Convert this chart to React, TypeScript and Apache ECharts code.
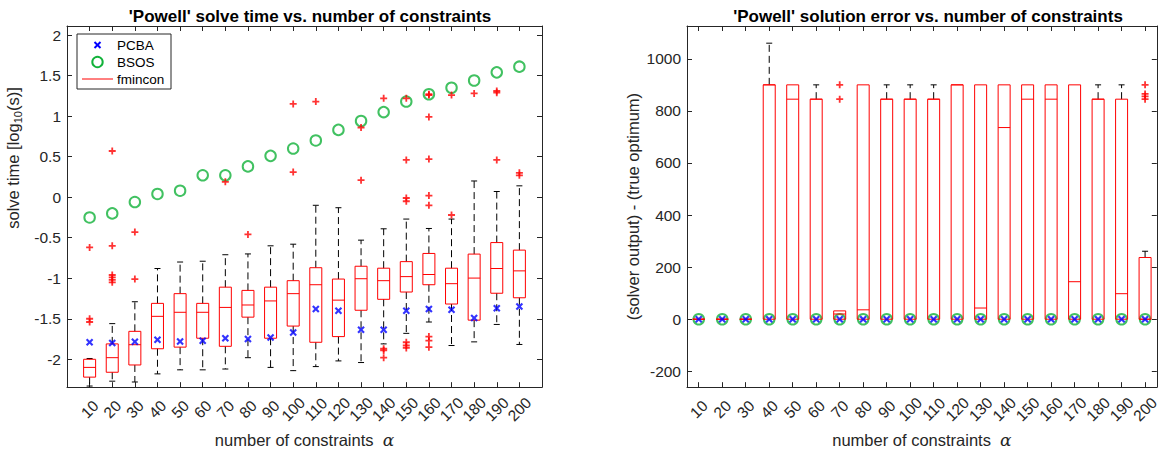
import React, { useEffect, useRef } from "react";
import * as echarts from "echarts";

// ---------- data ----------
const categories = [10, 20, 30, 40, 50, 60, 70, 80, 90, 100, 110, 120, 130, 140, 150, 160, 170, 180, 190, 200];

// left: solve time [log10(s)] — fmincon boxplot statistics
const timeLower = [-2.33, -2.27, -2.28, -2.18, -2.13, -2.13, -2.12, -1.98, -2.1, -2.14, -2.09, -2.02, -2.04, -1.81, -1.68, -1.54, -1.83, -1.785, -1.57, -1.817];
const timeQ1 = [-2.22, -2.16, -2.07, -1.87, -1.85, -1.74, -1.84, -1.48, -1.74, -1.59, -1.79, -1.72, -1.395, -1.26, -1.17, -1.08, -1.318, -1.517, -1.185, -1.241];
const timeMedian = [-2.1, -1.98, -1.82, -1.47, -1.42, -1.42, -1.36, -1.33, -1.28, -1.19, -1.08, -1.27, -1.006, -1.03, -0.98, -0.954, -1.067, -0.998, -0.88, -0.909];
const timeQ3 = [-2.0, -1.81, -1.655, -1.31, -1.19, -1.31, -1.11, -1.15, -1.11, -1.03, -0.87, -1.01, -0.852, -0.876, -0.795, -0.694, -0.876, -0.702, -0.56, -0.653];
const timeUpper = [-1.99, -1.56, -1.29, -0.88, -0.8, -0.79, -0.71, -0.7, -0.6, -0.58, -0.1, -0.13, -0.53, -0.39, -0.27, -0.386, -0.27, 0.2, 0.07, 0.14];
const timeOutliers: number[][] = [
  [-1.5, -1.54, -0.62],
  [0.57, -0.6, -0.96, -0.99, -1.02, -1.05],
  [-0.43, -1.01],
  [],
  [],
  [],
  [0.19],
  [-0.46],
  [],
  [1.15, 0.31],
  [1.18],
  [],
  [0.86, 0.21],
  [1.22, -1.87, -1.89, -1.98],
  [1.22, 0.46, -0.01, -0.05, -1.79, -1.83, -1.86],
  [1.27, 1.26, 0.99, 0.47, 0.02, -0.1, -1.72, -1.77, -1.85],
  [1.26, -0.22],
  [1.28],
  [1.31, 1.29, 0.46],
  [0.3, 0.27],
];
const timePCBA = [-1.79, -1.8, -1.785, -1.76, -1.78, -1.77, -1.74, -1.75, -1.73, -1.67, -1.38, -1.4, -1.635, -1.635, -1.4, -1.38, -1.39, -1.49, -1.37, -1.35];
const timeBSOS = [-0.25, -0.2, -0.06, 0.04, 0.08, 0.27, 0.27, 0.38, 0.51, 0.6, 0.7, 0.83, 0.94, 1.05, 1.18, 1.27, 1.35, 1.44, 1.54, 1.61];

// right: solution error — fmincon boxplot statistics
const errLower = [0, 0, 0, 0, 0, 0, 0, 0, 0, 0, 0, 0, 0, 0, 0, 0, 0, 0, 0, 0];
const errQ1 = [0, 0, 0, 0, 0, 0, 0, 0, 0, 0, 0, 0, 0, 0, 0, 0, 0, 0, 0, 0];
const errMedian = [0, 0, 0, 900, 845, 845, 20, 36, 845, 845, 845, 900, 43, 736, 845, 845, 144, 845, 98, 0];
const errQ3 = [0, 0, 0, 900, 900, 845, 32, 900, 845, 845, 845, 900, 900, 900, 900, 900, 900, 845, 845, 237];
const errUpper = [0, 0, 0, 1060, 900, 900, 32, 900, 900, 900, 900, 900, 900, 900, 900, 900, 900, 900, 900, 261];
const errOutliers: number[][] = [
  [], [], [], [], [], [], [900, 845], [], [], [], [], [], [], [], [], [], [], [], [], [900, 865, 856, 845],
];
const errPCBA = [0, 0, 0, 0, 0, 0, 0, 0, 0, 0, 0, 0, 0, 0, 0, 0, 0, 0, 0, 0];
const errBSOS = [0, 0, 0, 0, 0, 0, 0, 0, 0, 0, 0, 0, 0, 0, 0, 0, 0, 0, 0, 0];

const timeTicks = [-2, -1.5, -1, -0.5, 0, 0.5, 1, 1.5, 2];
const errTicks = [-200, 0, 200, 400, 600, 800, 1000];

// ---------- styles ----------
const AX = "#262626";
const RED = "#ff0000";
const BLUE = "#0000ff";
const GREEN = "#12b23a";
const FONT = "'Liberation Sans', Arial, Helvetica, sans-serif";
const PLUS = "path://M2.6,0H4.4V2.6H7V4.4H4.4V7H2.6V4.4H0V2.6H2.6Z";
const CROSS = "path://M0,2L2,0L5,3L8,0L10,2L7,5L10,8L8,10L5,7L2,10L0,8L3,5Z";
const xPositions = categories.map((_, i) => i + 1);

function boxRender(params: any, api: any) {
  const x = api.value(0);
  const lo = api.coord([x, api.value(1)]);
  const q1 = api.coord([x, api.value(2)]);
  const md = api.coord([x, api.value(3)]);
  const q3 = api.coord([x, api.value(4)]);
  const hi = api.coord([x, api.value(5)]);
  const hw = 6;
  const cw = 3;
  const dash = { stroke: "#000", lineWidth: 1, lineDash: [7, 4] };
  const solid = { stroke: "#000", lineWidth: 1 };
  const children: any[] = [];
  if (hi[1] < q3[1] - 0.5) {
    children.push({ type: "line", shape: { x1: q3[0], y1: q3[1], x2: hi[0], y2: hi[1] }, style: dash });
    children.push({ type: "line", shape: { x1: hi[0] - cw, y1: hi[1], x2: hi[0] + cw, y2: hi[1] }, style: solid });
  }
  if (lo[1] > q1[1] + 0.5) {
    children.push({ type: "line", shape: { x1: q1[0], y1: q1[1], x2: lo[0], y2: lo[1] }, style: dash });
    children.push({ type: "line", shape: { x1: lo[0] - cw, y1: lo[1], x2: lo[0] + cw, y2: lo[1] }, style: solid });
  }
  children.push({ type: "rect", shape: { x: q3[0] - hw, y: q3[1], width: 2 * hw, height: q1[1] - q3[1] }, style: { fill: "none", stroke: RED, lineWidth: 1 } });
  children.push({ type: "line", shape: { x1: md[0] - hw, y1: md[1], x2: md[0] + hw, y2: md[1] }, style: { stroke: RED, lineWidth: 1 } });
  return { type: "group", children };
}

function panelSeries(
  gi: number,
  lower: number[], q1: number[], med: number[], q3: number[], upper: number[],
  outliers: number[][], pcba: number[], bsos: number[]
) {
  const xi = gi * 2;
  const yi = gi * 2;
  const boxData = xPositions.map((x, i) => [x, lower[i], q1[i], med[i], q3[i], upper[i]]);
  const outData: number[][] = [];
  outliers.forEach((arr, i) => arr.forEach((v) => outData.push([xPositions[i], v])));
  return [
    {
      name: "BSOS", type: "scatter", xAxisIndex: xi, yAxisIndex: yi, z: 2,
      data: xPositions.map((x, i) => [x, bsos[i]]),
      symbol: "circle", symbolSize: 10.5,
      itemStyle: { color: "rgba(0,0,0,0)", borderColor: GREEN, borderWidth: 2 },
    },
    {
      name: "fmincon", type: "custom", xAxisIndex: xi, yAxisIndex: yi, z: 3, clip: true,
      data: boxData, renderItem: boxRender,
      encode: { x: 0, y: [1, 2, 3, 4, 5] },
    },
    {
      name: "fmincon outliers", type: "scatter", xAxisIndex: xi, yAxisIndex: yi, z: 4,
      data: outData, symbol: PLUS, symbolSize: 7,
      itemStyle: { color: RED },
    },
    {
      name: "PCBA", type: "scatter", xAxisIndex: xi, yAxisIndex: yi, z: 5,
      data: xPositions.map((x, i) => [x, pcba[i]]),
      symbol: CROSS, symbolSize: 7.5,
      itemStyle: { color: BLUE },
    },
  ];
}

function xAxes(gi: number, min: number, max: number) {
  const common = {
    gridIndex: gi, type: "value", min, max,
    axisLine: { show: true, onZero: false, lineStyle: { color: AX, width: 1 } },
    splitLine: { show: false },
  };
  return [
    {
      ...common, position: "bottom",
      axisTick: { show: true, inside: true, length: 5, customValues: xPositions, lineStyle: { color: AX } },
      axisLabel: {
        show: true, customValues: xPositions, rotate: 45, align: "center", verticalAlign: "middle", margin: 22,
        fontSize: 15.5, color: AX, fontFamily: FONT,
        formatter: (v: number) => String(categories[Math.round(v) - 1] ?? ""),
      },
      name: "number of constraints  {a|α}",
      nameLocation: "middle", nameGap: 38,
      nameTextStyle: {
        fontSize: 16.5, color: AX, fontFamily: FONT,
        rich: { a: { fontSize: 17, fontStyle: "italic", fontFamily: "'DejaVu Serif', 'Liberation Serif', serif", color: AX } },
      },
    },
    {
      ...common, position: "top",
      axisTick: { show: true, inside: true, length: 5, customValues: xPositions, lineStyle: { color: AX } },
      axisLabel: { show: false },
    },
  ];
}

function yAxes(gi: number, min: number, max: number, ticks: number[], name: string, nameGap: number) {
  const common = {
    gridIndex: gi, type: "value", min, max,
    axisLine: { show: true, onZero: false, lineStyle: { color: AX, width: 1 } },
    splitLine: { show: false },
  };
  return [
    {
      ...common, position: "left",
      axisTick: { show: true, inside: true, length: 5, customValues: ticks, lineStyle: { color: AX } },
      axisLabel: {
        show: true, customValues: ticks, fontSize: 15.5, color: AX, fontFamily: FONT, margin: 6,
        formatter: (v: number) => String(v),
      },
      name, nameLocation: "middle", nameGap, nameRotate: 90,
      nameTextStyle: { fontSize: 16.5, color: AX, fontFamily: FONT, lineHeight: 20 },
    },
    {
      ...common, position: "right",
      axisTick: { show: true, inside: true, length: 5, customValues: ticks, lineStyle: { color: AX } },
      axisLabel: { show: false },
    },
  ];
}

function leftYLabel() {
  return {
    type: "text",
    x: 13, y: 158, rotation: Math.PI / 2,
    style: {
      text: "solve time [log{s|10}(s)]",
      fontSize: 16.5, fontFamily: FONT, fill: AX,
      align: "center", verticalAlign: "middle", lineHeight: 20,
      rich: {
        s: { fontSize: 11, lineHeight: 10, verticalAlign: "bottom", fill: AX, fontFamily: FONT },
      },
    },
  };
}

function legendGraphic() {
  const x0 = 77, y0 = 34, w = 94, h = 55;
  const rowY = [45, 62, 79];
  const txt = (t: string, y: number) => ({
    type: "text", x: 117, y, z: 101,
    style: { text: t, fontSize: 13.5, fontFamily: FONT, fill: "#000", verticalAlign: "middle" },
  });
  return {
    type: "group",
    children: [
      { type: "rect", shape: { x: x0, y: y0, width: w, height: h }, style: { fill: "#fff", stroke: AX, lineWidth: 1 }, z: 100 },
      { type: "line", shape: { x1: 94.5, y1: rowY[0] - 3, x2: 100.5, y2: rowY[0] + 3 }, style: { stroke: BLUE, lineWidth: 2 }, z: 101 },
      { type: "line", shape: { x1: 94.5, y1: rowY[0] + 3, x2: 100.5, y2: rowY[0] - 3 }, style: { stroke: BLUE, lineWidth: 2 }, z: 101 },
      { type: "circle", shape: { cx: 97.5, cy: rowY[1], r: 5.2 }, style: { fill: "none", stroke: GREEN, lineWidth: 2 }, z: 101 },
      { type: "line", shape: { x1: 82, y1: rowY[2], x2: 113, y2: rowY[2] }, style: { stroke: RED, lineWidth: 1 }, z: 101 },
      txt("PCBA", rowY[0]),
      txt("BSOS", rowY[1]),
      txt("fmincon", rowY[2]),
    ],
  };
}

export default function App() {
  const ref = useRef<HTMLDivElement>(null);
  useEffect(() => {
    if (!ref.current) return;
    const chart = echarts.init(ref.current, undefined, { renderer: "svg" });
    const option: any = {
      animation: false,
      backgroundColor: "#fff",
      textStyle: { fontFamily: FONT },
      title: [
        {
          text: "'Powell' solve time vs. number of constraints",
          left: 305, top: 3, textAlign: "center",
          textStyle: { fontSize: 17, fontWeight: "bold", color: "#000", fontFamily: FONT },
        },
        {
          text: "'Powell' solution error vs. number of constraints",
          left: 923, top: 3, textAlign: "center",
          textStyle: { fontSize: 17, fontWeight: "bold", color: "#000", fontFamily: FONT },
        },
      ],
      grid: [
        { left: 67, top: 26, width: 475, height: 366 },
        { left: 687, top: 26, width: 474, height: 366 },
      ],
      xAxis: [...xAxes(0, 0, 21), ...xAxes(1, 0.5, 20.5)],
      yAxis: [
        ...yAxes(0, -2.344, 2.112, timeTicks, "", 44),
        ...yAxes(1, -261, 1126, errTicks, "(solver output) - (true optimum)", 41),
      ],
      series: [
        ...panelSeries(0, timeLower, timeQ1, timeMedian, timeQ3, timeUpper, timeOutliers, timePCBA, timeBSOS),
        ...panelSeries(1, errLower, errQ1, errMedian, errQ3, errUpper, errOutliers, errPCBA, errBSOS),
      ],
      graphic: [leftYLabel(), legendGraphic()],
    };
    chart.setOption(option);
    return () => chart.dispose();
  }, []);
  return (
    <div
      ref={ref}
      style={{ position: "fixed", left: 0, top: 0, width: 1162, height: 453, background: "#fff" }}
    />
  );
}
